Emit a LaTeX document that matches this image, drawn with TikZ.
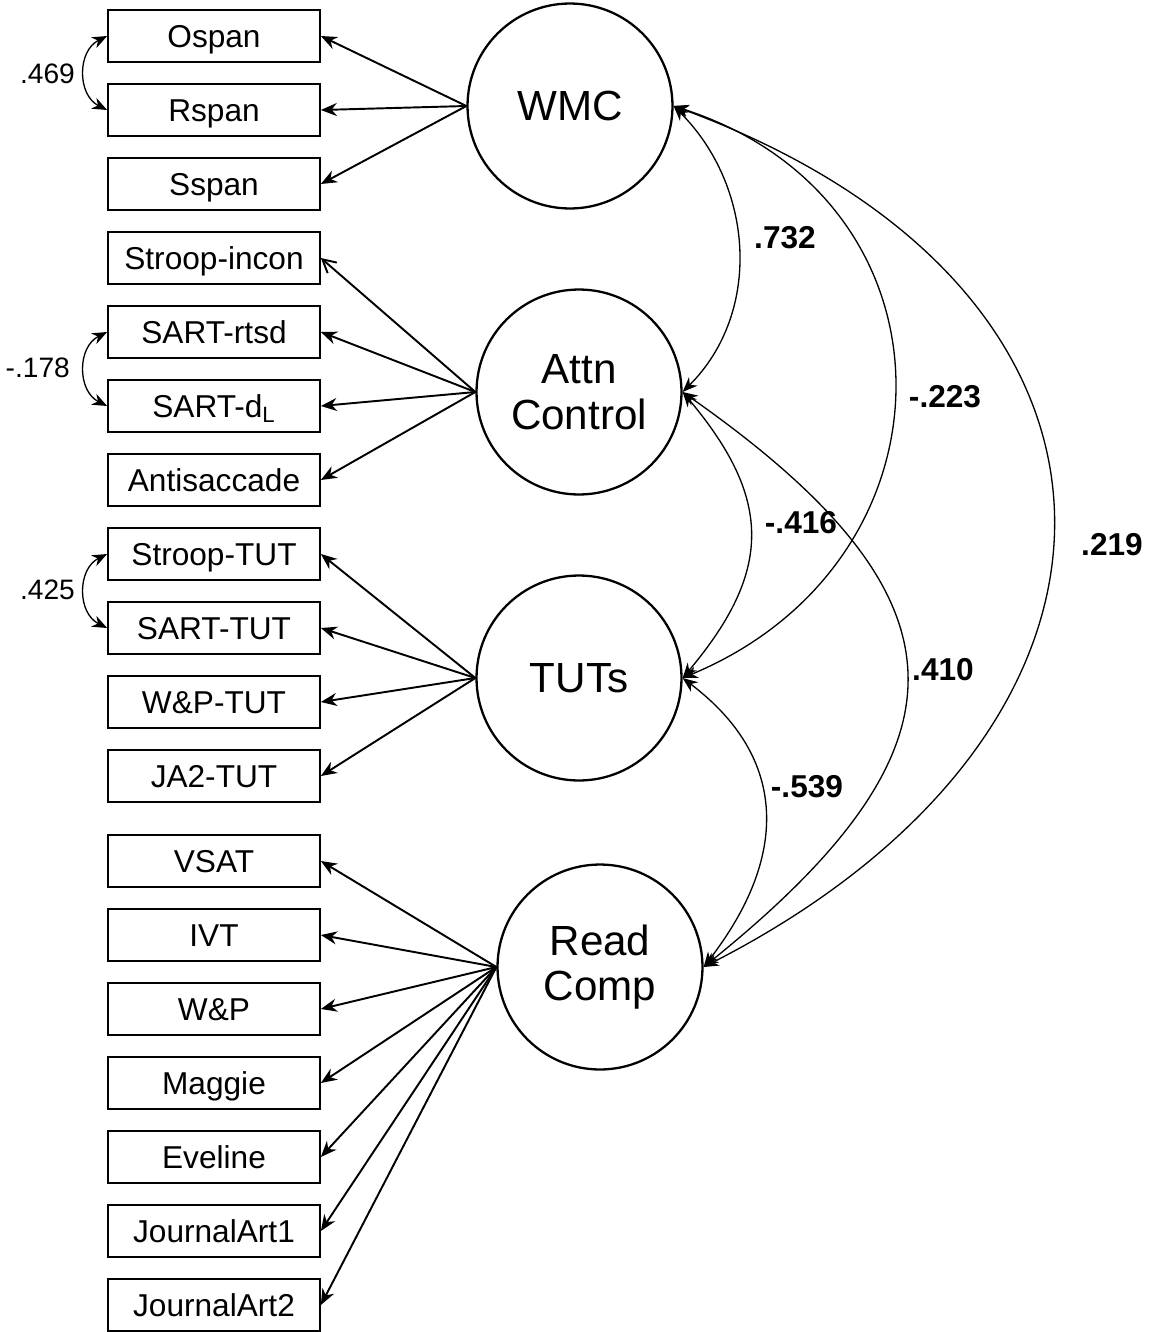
\documentclass[tikz,border=0pt]{standalone}
\usepackage{fontspec}
\setmainfont{Liberation Sans}
\usetikzlibrary{arrows.meta}

\begin{document}
\begin{tikzpicture}[
  x=0.02cm,y=-0.02cm,
  obs/.style={draw,line width=1pt,minimum width=4.24cm,minimum height=1.04cm,
    inner sep=0pt,text height=12.9pt,text depth=0pt,
    font=\fontsize{18}{20}\selectfont},
  lat/.style={draw,circle,line width=1.3pt,minimum size=4.1cm,inner sep=0pt,
    align=center,font=\fontsize{24}{26}\selectfont},
  load/.style={-{Stealth[length=3.2mm,width=2.6mm]},line width=1.1pt},
  loadopen/.style={-{Straight Barb[length=2.6mm,width=2.8mm]},line width=1.1pt},
  cov/.style={{Stealth[length=3mm,width=2.4mm]}-{Stealth[length=3mm,width=2.4mm]},
    line width=.75pt},
  est/.style={font=\fontsize{18}{20}\selectfont\bfseries},
  err/.style={font=\fontsize{16}{18}\selectfont,anchor=east}
]
  \useasboundingbox (0,0) rectangle (1155,1332);

  % indicators
  \foreach \nm/\y/\txt in {ospan/36/Ospan,rspan/110/Rspan,sspan/184/Sspan,
      stroopinc/258/Stroop-incon,sartrtsd/332/SART-rtsd,
      sartdl/406/SART-d\textsubscript{L},anti/480/Antisaccade,
      strooptut/554/Stroop-TUT,sarttut/628/SART-TUT,wptut/702/W\&P-TUT,
      jatut/776/JA2-TUT,vsat/861/VSAT,ivt/935/IVT,wp/1009/W\&P,
      maggie/1083/Maggie,eveline/1157/Eveline,jart1/1231/JournalArt1,
      jart2/1305/JournalArt2}
    \node[obs] (\nm) at (214,\y) {\txt};

  % latent factors
  \node[lat] (wmc) at (570,106) {WMC};
  \node[lat] (attn) at (579,392) {Attn\\Control};
  \node[lat] (tuts) at (579,678) {TUTs};
  \node[lat] (read) at (600,967) {Read\\Comp};

  % loadings
  \foreach \nm in {ospan,rspan,sspan}
    \draw[load] (wmc.west) -- (\nm.east);
  \draw[loadopen] (attn.west) -- (stroopinc.east);
  \foreach \nm in {sartrtsd,sartdl,anti}
    \draw[load] (attn.west) -- (\nm.east);
  \foreach \nm in {strooptut,sarttut,wptut,jatut}
    \draw[load] (tuts.west) -- (\nm.east);
  \foreach \nm in {vsat,ivt,wp,maggie,eveline,jart1,jart2}
    \draw[load] (read.west) -- (\nm.east);

  % residual covariances
  \draw[cov] (ospan.west) .. controls +(-30,15) and +(-30,-15) .. (rspan.west);
  \draw[cov] (sartrtsd.west) .. controls +(-30,15) and +(-30,-15) .. (sartdl.west);
  \draw[cov] (strooptut.west) .. controls +(-30,15) and +(-30,-15) .. (sarttut.west);
  \node[err] (c1) at (81,74) {.469};
  \node[err] (c2) at (76,368) {-.178};
  \node[err] (c3) at (81,590) {.425};

  % factor correlations
  \draw[cov] (wmc.east) .. controls +(80,80) and +(80,-80) .. (attn.east);
  \draw[cov] (wmc.east) .. controls +(292,94) and +(283,-118) .. (tuts.east);
  \draw[cov] (wmc.east) .. controls +(500,184) and +(470,-240) .. (read.east);
  \draw[cov] (attn.east) .. controls +(90,107) and +(90,-107) .. (tuts.east);
  \draw[cov] (attn.east) .. controls +(295,207) and +(273,-220) .. (read.east);
  \draw[cov] (tuts.east) .. controls +(106,80) and +(85,-110) .. (read.east);
  \node[est] (r1) at (785,238) {.732};
  \node[est] (r2) at (945,397) {-.223};
  \node[est] (r3) at (1112,545) {.219};
  \node[est] (r4) at (801,523) {-.416};
  \node[est] (r5) at (943,670) {.410};
  \node[est] (r6) at (807,787) {-.539};
\end{tikzpicture}
\end{document}
